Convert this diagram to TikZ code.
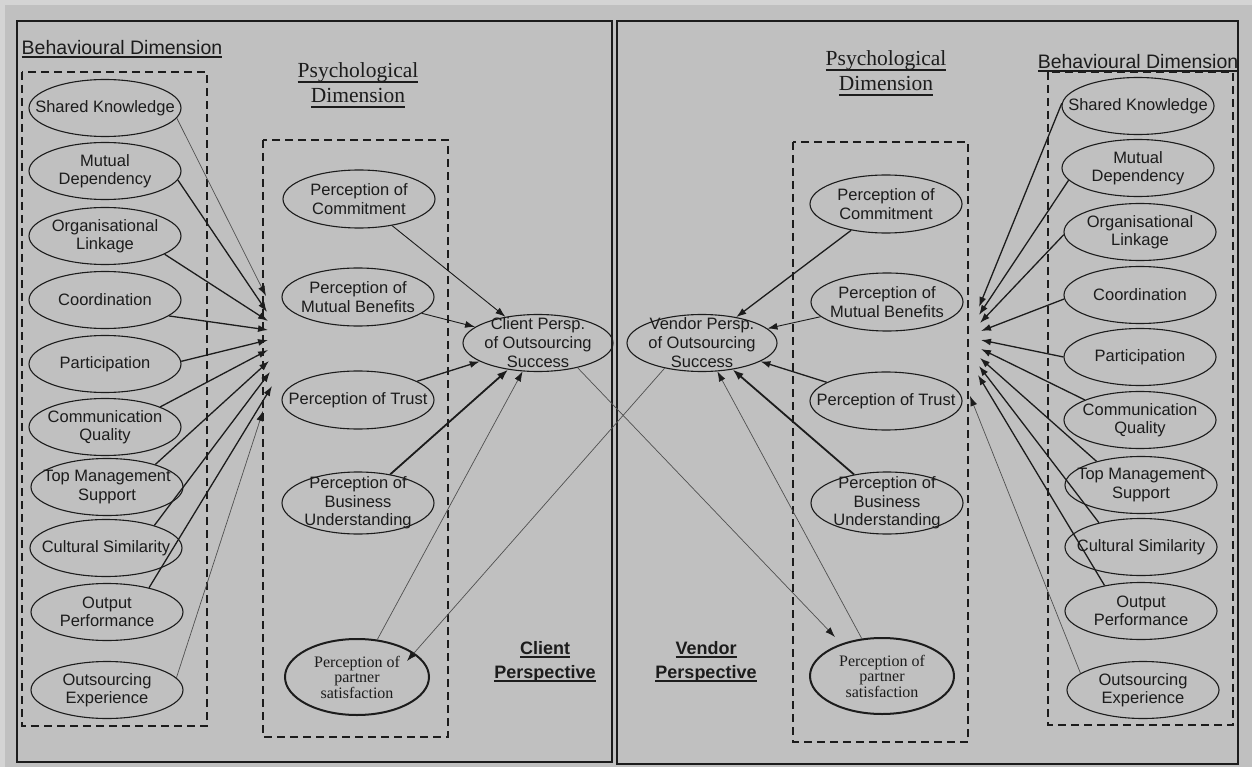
\documentclass[tikz,border=0pt]{standalone}
\usepackage{fontspec}
\setmainfont{Liberation Serif}
\setsansfont{Liberation Sans}
\usetikzlibrary{shapes.geometric,arrows.meta}
\definecolor{bg}{HTML}{C0C0C0}
\definecolor{bgl}{HTML}{D4D4D4}
\definecolor{ink}{HTML}{1C1C1C}
\definecolor{thinc}{HTML}{505050}
\newcommand\myul[3]{\setbox0=\hbox{#3}\rlap{\rule[-#1]{\wd0}{#2}}\box0}
\newcommand\sfs{\fontsize{16.5}{18.5}\selectfont\sffamily}
\newcommand\sfc{\fontsize{16.5}{19}\selectfont\sffamily}
\newcommand\sers{\fontsize{16}{15.5}\selectfont\rmfamily}
\begin{document}
\begin{tikzpicture}[x=1pt,y=-1pt,
  sfl/.style={font=\sfs, align=center, text=ink, inner sep=0pt},
  cfl/.style={font=\sfc, align=center, text=ink, inner sep=0pt},
  srl/.style={font=\sers, align=center, text=ink, inner sep=0pt},
  bel/.style={ellipse, draw=ink, line width=1.1pt, minimum width=152pt, minimum height=57pt, inner sep=0pt, label={[sfl]center:#1}},
  pel/.style={ellipse, draw=ink, line width=1.1pt, minimum width=152pt, minimum height=58pt, inner sep=0pt, label={[sfl]center:#1}},
  bul/.style={ellipse, draw=ink, line width=1.1pt, minimum width=152pt, minimum height=62pt, inner sep=0pt, label={[sfl]center:#1}},
  cel/.style={ellipse, draw=ink, line width=1.1pt, minimum width=150pt, minimum height=57pt, inner sep=0pt, label={[cfl]center:#1}},
  psat/.style={ellipse, draw=ink, line width=2pt, minimum width=144pt, minimum height=76pt, inner sep=0pt, label={[srl]center:#1}},
  dbox/.style={draw=ink, line width=1.4pt, dash pattern=on 8pt off 5pt},
  frame/.style={draw=ink, line width=1.6pt},
  arr/.style={-{Latex[length=10pt,width=7pt]}, line width=1.3pt, draw=ink},
  arrb/.style={-{Latex[length=11pt,width=8pt]}, line width=1.8pt, draw=ink},
  arrt/.style={-{Latex[length=10pt,width=7pt,color=ink]}, line width=0.7pt, draw=thinc},
  arrm/.style={-{Latex[length=10pt,width=7pt]}, line width=0.9pt, draw=ink},
  headsf/.style={font=\fontsize{19.5}{22}\selectfont\sffamily, text=ink, inner sep=0pt},
  headrm/.style={font=\fontsize{21.5}{25}\selectfont\rmfamily, text=ink, inner sep=0pt, align=center},
  persp/.style={font=\fontsize{18}{24}\selectfont\sffamily\bfseries, text=ink, inner sep=0pt, align=center}
]
\useasboundingbox (0,0) rectangle (1252,767);
\fill[bg] (0,0) rectangle (1252,767);
\fill[bgl] (0,0) rectangle (1252,5);
\fill[bgl] (0,0) rectangle (5,767);

% panels
\draw[frame] (17,21) rectangle (612,762);
\draw[frame] (617,21) rectangle (1238,764);

% dashed boxes
\draw[dbox] (22,72) rectangle (207,726);
\draw[dbox] (263,140) rectangle (448,737);
\draw[dbox] (793,142) rectangle (968,742);
\draw[dbox] (1048,72) rectangle (1233,725);

% headings
\node[headsf] (hbl) at (122,49) {\myul{3.5pt}{1.6pt}{Behavioural Dimension}};
\node[headrm] (hpl) at (358,85) {\myul{5.5pt}{1.6pt}{Psychological}\\\myul{5.5pt}{1.6pt}{Dimension}};
\node[headrm] (hpr) at (886,73) {\myul{5.5pt}{1.6pt}{Psychological}\\\myul{5.5pt}{1.6pt}{Dimension}};
\node[headsf] (hbr) at (1138,63) {\myul{3.5pt}{1.6pt}{Behavioural Dimension}};
\node[persp] (cp) at (545,662) {\myul{3pt}{1.6pt}{Client}\\\myul{3pt}{1.6pt}{Perspective}};
\node[persp] (vp) at (706,662) {\myul{3pt}{1.6pt}{Vendor}\\\myul{3pt}{1.6pt}{Perspective}};

% left behavioural
\node[bel={Shared Knowledge}] (l1) at (105,108) {};
\node[bel={Mutual\\Dependency}] (l2) at (105,171) {};
\node[bel={Organisational\\Linkage}] (l3) at (105,236) {};
\node[bel={Coordination}] (l4) at (105,300) {};
\node[bel={Participation}] (l5) at (105,364) {};
\node[bel={Communication\\Quality}] (l6) at (105,427) {};
\node[bel={Top Management\\Support}] (l7) at (107,487) {};
\node[bel={Cultural Similarity}] (l8) at (106,548) {};
\node[bel={Output\\Performance}] (l9) at (107,612) {};
\node[bel={Outsourcing\\Experience}] (l10) at (107,690) {};

% left psychological
\node[pel={Perception of\\Commitment}] (p1) at (359,199) {};
\node[pel={Perception of\\Mutual Benefits}] (p2) at (358,297) {};
\node[pel={Perception of Trust}] (p3) at (358,400) {};
\node[bul={Perception of\\Business\\Understanding}] (p4) at (358,503) {};
\node[psat={Perception of\\partner\\satisfaction}] (p5) at (357,677) {};

% centre ellipses
\node[cel={Client Persp.\\of Outsourcing\\Success}] (cl) at (538,343) {};
\node[cel={Vendor Persp.\\of Outsourcing\\Success}] (vd) at (702,343) {};

% right psychological
\node[pel={Perception of\\Commitment}] (q1) at (886,204) {};
\node[pel={Perception of\\Mutual Benefits}] (q2) at (887,302) {};
\node[pel={Perception of Trust}] (q3) at (886,401) {};
\node[bul={Perception of\\Business\\Understanding}] (q4) at (887,503) {};
\node[psat={Perception of\\partner\\satisfaction}] (q5) at (882,676) {};

% right behavioural
\node[bel={Shared Knowledge}] (r1) at (1138,106) {};
\node[bel={Mutual\\Dependency}] (r2) at (1138,168) {};
\node[bel={Organisational\\Linkage}] (r3) at (1140,232) {};
\node[bel={Coordination}] (r4) at (1140,295) {};
\node[bel={Participation}] (r5) at (1140,357) {};
\node[bel={Communication\\Quality}] (r6) at (1140,420) {};
\node[bel={Top Management\\Support}] (r7) at (1141,485) {};
\node[bel={Cultural Similarity}] (r8) at (1141,547) {};
\node[bel={Output\\Performance}] (r9) at (1141,611) {};
\node[bel={Outsourcing\\Experience}] (r10) at (1143,690) {};

% convergence tips
\coordinate (a1) at (266,296);
\coordinate (a2) at (267,312);
\coordinate (a3) at (268,321);
\coordinate (a4) at (268,330);
\coordinate (a5) at (268,340);
\coordinate (a6) at (268,350);
\coordinate (a7) at (269,361);
\coordinate (a8) at (270,372);
\coordinate (a9) at (272,386);
\coordinate (a10) at (263,411);

\coordinate (b1) at (979,307);
\coordinate (b2) at (979,315);
\coordinate (b3) at (980,323);
\coordinate (b4) at (981,331);
\coordinate (b5) at (981,340);
\coordinate (b6) at (981,349);
\coordinate (b7) at (980,358);
\coordinate (b8) at (979,366);
\coordinate (b9) at (978,375);
\coordinate (b10) at (970,396);

% ends of the cross links
\coordinate (p5in) at (407,661);
\coordinate (q5in) at (835,637);

% left behavioural arrows
\draw[arrt] (l1.-8) -- (a1);
\draw[arr] (l2.-7) -- (a2);
\draw[arr] (l3.-17) -- (a3);
\draw[arr] (l4.-14) -- (a4);
\draw[arr] (l5.2) -- (a5);
\draw[arr] (l6.20) -- (a6);
\draw[arr] (l7.25) -- (a7);
\draw[arr] (l8.25) -- (a8);
\draw[arr] (l9.30) -- (a9);
\draw[arrt] (l10.10) -- (a10);

% right behavioural arrows
\draw[arr] (r1.178) -- (b1);
\draw[arr] (r2.190) -- (b2);
\draw[arr] (r3.182) -- (b3);
\draw[arr] (r4.183) -- (b4);
\draw[arr] (r5.180) -- (b5);
\draw[arr] (r6.160) -- (b6);
\draw[arr] (r7.152) -- (b7);
\draw[arr] (r8.150) -- (b8);
\draw[arr] (r9.145) -- (b9);
\draw[arrt] (r10.165) -- (b10);

% left psychological to client
\draw[arrm] (p1) -- (cl);
\draw[arrm] (p2) -- (cl);
\draw[arr] (p3) -- (cl);
\draw[arrb] (p4) -- (cl);
\draw[arrt] (p5) -- (cl);

% right psychological to vendor
\draw[arr] (q1) -- (vd);
\draw[arrm] (q2) -- (vd);
\draw[arr] (q3) -- (vd);
\draw[arrb] (q4) -- (vd);
\draw[arrt] (q5) -- (vd);

% cross links
\draw[arrt] (cl.-32) -- (q5in);
\draw[arrt] (vd.-146) -- (p5in);
\end{tikzpicture}
\end{document}
